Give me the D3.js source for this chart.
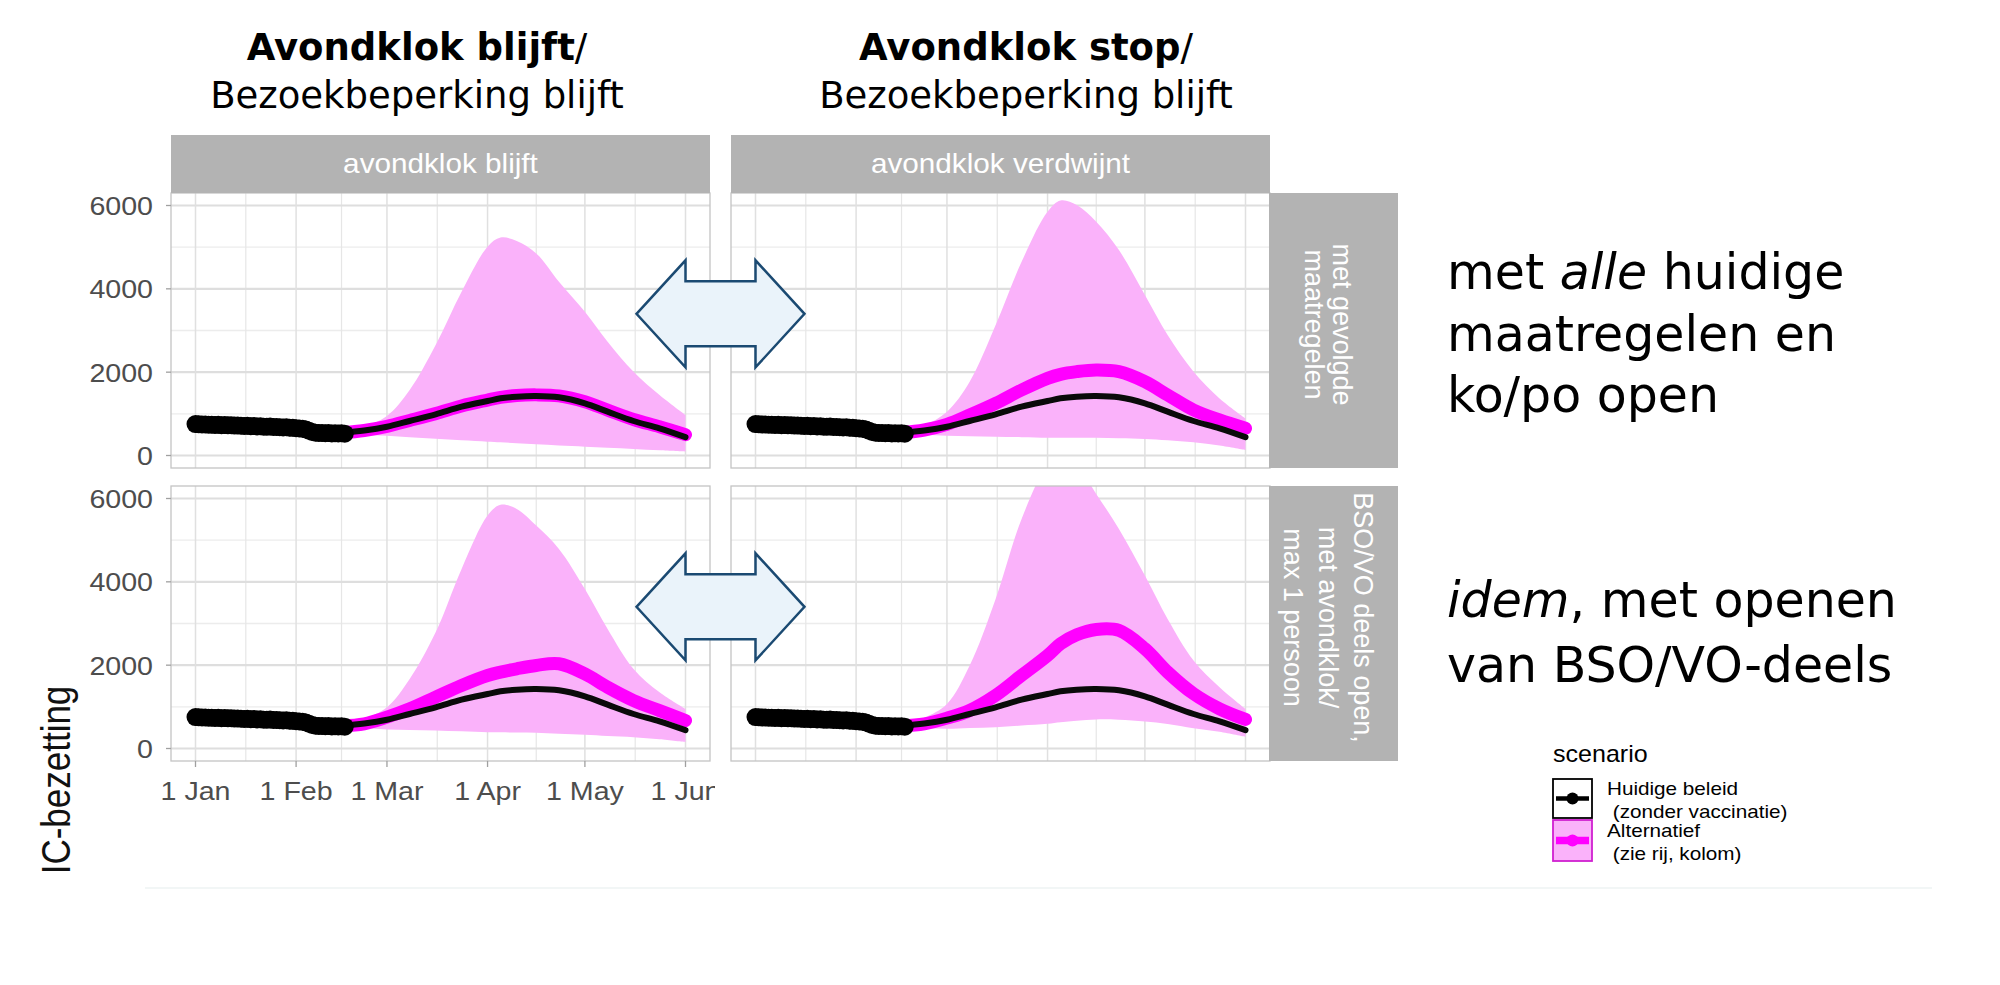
<!DOCTYPE html>
<html>
<head>
<meta charset="utf-8">
<script src="https://cdn.jsdelivr.net/npm/d3@7"></script>
<style>
    body { margin: 0; background: #fff; }
    svg { display: block; }
</style>
</head>
<body>
<div id="chart"></div>
<script>
// ---- data ----
const obsStart = "2021-01-01";
// daily IC occupancy, 1 Jan - 16 Feb
const observed = [755, 748, 744, 746, 738, 741, 733, 736, 729, 731,
                  724, 727, 718, 721, 715, 709, 712, 703, 706, 699,
                  701, 693, 690, 694, 684, 686, 679, 675, 678, 667, 664,
                  657, 650, 645, 624, 594, 566, 549, 541, 543, 535,
                  539, 531, 533, 528, 532, 525];

const modelDates = ["2021-02-15", "2021-02-22", "2021-03-01", "2021-03-08", "2021-03-16", "2021-03-24",
                    "2021-04-01", "2021-04-05", "2021-04-10", "2021-04-16", "2021-04-23",
                    "2021-05-01", "2021-05-08", "2021-05-16", "2021-05-24", "2021-06-01"];

// huidige beleid (same in every panel)
const baseline = [545, 600, 690, 828, 988, 1172, 1308, 1372, 1412, 1428, 1396, 1252, 1052, 828, 652, 440];

// alternatief, median
const altTL = [545, 600, 700, 840, 1005, 1190, 1330, 1395, 1440, 1455, 1430, 1290, 1090, 865, 690, 500];
const altTR = [545, 612, 748, 972, 1252, 1572, 1852, 1948, 2012, 2052, 2012, 1772, 1452, 1092, 852, 652];
const altBL = [545, 593, 753, 953, 1233, 1513, 1753, 1833, 1913, 1993, 2033, 1790, 1470, 1150, 910, 673];
const altBR = [545, 593, 729, 913, 1273, 1753, 2233, 2513, 2729, 2857, 2833, 2393, 1833, 1313, 953, 697];

// alternatief, lower bound of band
const lowTL = [520, 500, 476, 440, 400, 365, 332, 318, 296, 268, 240, 212, 185, 156, 125, 92];
const lowTR = [520, 500, 476, 462, 452, 440, 428, 428, 428, 425, 415, 396, 365, 316, 240, 132];
const lowBL = [520, 490, 457, 445, 433, 412, 393, 388, 383, 377, 355, 329, 300, 273, 220, 153];
const lowBR = [520, 490, 473, 490, 513, 550, 593, 630, 665, 697, 690, 649, 590, 489, 400, 280];

// alternatief, upper bound of band
const upTL = [560, 700, 950, 1570, 2650, 3930, 5010, 5230, 5150, 4850, 4170, 3450, 2730, 2010, 1450, 970];
const upTR = [560, 720, 1050, 1770, 3130, 4650, 5850, 6120, 6010, 5610, 4930, 3850, 2890, 2010, 1370, 890];
const upBL = [560, 710, 990, 1670, 2790, 4310, 5590, 5850, 5750, 5350, 4790, 3830, 2870, 1910, 1350, 950];
const upBR = [560, 740, 1070, 1990, 3590, 5510, 6800, 7000, 6800, 6110, 5270, 4150, 3110, 2110, 1470, 950];

const colLabels = ["avondklok blijft", "avondklok verdwijnt"];
const rowLabels = [["met gevolgde", "maatregelen"],
                   ["BSO/VO deels open,", "met avondklok/", "max 1 persoon"]];
const yTicks = [0, 2000, 4000, 6000];
const yMinor = [1000, 3000, 5000];
const xTicks = ["2021-01-01", "2021-02-01", "2021-03-01", "2021-04-01", "2021-05-01", "2021-06-01"];
const legendLabels = [["Huidige beleid", " (zonder vaccinatie)"], ["Alternatief", " (zie rij, kolom)"]];

// ---- layout ----
const W = 2000, H = 985;
const colX = [171, 731], panelW = 539;
const rowY = [193, 486], panelH = 275;
const stripTop = 135, stripH = 58, rowStripW = 129;
const pink = "#fab2fa", magenta = "#ff00ff";
const ggFont = "'Liberation Sans', Arial, Helvetica, sans-serif";
const slideFont = "'DejaVu Sans', Verdana, sans-serif";

const parse = d3.timeParse("%Y-%m-%d");
const t0 = parse("2021-01-01"), t1 = parse("2021-06-01");
const pad = (t1 - t0) * 0.05;

const x = d3.scaleTime().domain([new Date(+t0 - pad), new Date(+t1 + pad)]).range([0, panelW]);
const y = d3.scaleLinear().domain([-300, 6300]).range([panelH, 0]);

const obsData = observed.map((v, i) => ({date: d3.timeDay.offset(parse(obsStart), i), v}));
const mDates = modelDates.map(parse);
const majorX = xTicks.map(parse);
const minorX = d3.pairs(majorX).map(([a, b]) => new Date((+a + +b) / 2));

const panels = [
    {r: 0, c: 0, alt: altTL, low: lowTL, up: upTL},
    {r: 0, c: 1, alt: altTR, low: lowTR, up: upTR},
    {r: 1, c: 0, alt: altBL, low: lowBL, up: upBL},
    {r: 1, c: 1, alt: altBR, low: lowBR, up: upBR}
];

const svg = d3.select("#chart").append("svg")
    .attr("width", W).attr("height", H)
    .style("background", "#fff");

// text stretched the way the ggplot picture was stretched on the slide
function sText(g, px, py, str, size, anchor, fill, sx = 1.1) {
    return g.append("text")
        .attr("transform", `translate(${px},${py}) scale(${sx},1)`)
        .attr("text-anchor", anchor)
        .attr("font-family", ggFont)
        .attr("font-size", size)
        .attr("fill", fill)
        .text(str);
}

// faint edge of the pasted picture
svg.append("line").attr("x1", 145).attr("x2", 1932).attr("y1", 888).attr("y2", 888)
    .attr("stroke", "#eef3f3").attr("stroke-width", 1.5);

// ---- panels ----
const smooth = d3.curveCatmullRom.alpha(0.5);
const area = d3.area()
    .x(d => x(d.date)).y0(d => y(d.lo)).y1(d => y(d.hi))
    .curve(smooth);
const line = d3.line()
    .x(d => x(d.date)).y(d => y(d.v))
    .curve(smooth);

panels.forEach((p, i) => {
    const g = svg.append("g").attr("transform", `translate(${colX[p.c]},${rowY[p.r]})`);

    g.append("clipPath").attr("id", "clip" + i)
        .append("rect").attr("width", panelW).attr("height", panelH);

    g.append("rect").attr("width", panelW).attr("height", panelH).attr("fill", "#fff");

    // grid
    g.selectAll(".ymin").data(yMinor).join("line")
        .attr("x1", 0).attr("x2", panelW).attr("y1", d => y(d)).attr("y2", d => y(d))
        .attr("stroke", "#ececec").attr("stroke-width", 1.3);
    g.selectAll(".xmin").data(minorX).join("line")
        .attr("x1", d => x(d)).attr("x2", d => x(d)).attr("y1", 0).attr("y2", panelH)
        .attr("stroke", "#e6e6e6").attr("stroke-width", 1.2);
    g.selectAll(".ymaj").data(yTicks).join("line")
        .attr("x1", 0).attr("x2", panelW).attr("y1", d => y(d)).attr("y2", d => y(d))
        .attr("stroke", "#dedede").attr("stroke-width", 2.2);
    g.selectAll(".xmaj").data(majorX).join("line")
        .attr("x1", d => x(d)).attr("x2", d => x(d)).attr("y1", 0).attr("y2", panelH)
        .attr("stroke", "#e0e0e0").attr("stroke-width", 1.5);

    const band = mDates.map((d, k) => ({date: d, lo: p.low[k], hi: p.up[k]}));
    const alt = mDates.map((d, k) => ({date: d, v: p.alt[k]}));
    const base = mDates.map((d, k) => ({date: d, v: baseline[k]}));

    const plot = g.append("g").attr("clip-path", `url(#clip${i})`);
    plot.append("path").attr("d", area(band)).attr("fill", pink);
    plot.append("path").attr("d", line(alt)).attr("fill", "none")
        .attr("stroke", magenta).attr("stroke-width", 13).attr("stroke-linecap", "round");
    plot.append("path").attr("d", line(base)).attr("fill", "none")
        .attr("stroke", "#0a0a0a").attr("stroke-width", 6).attr("stroke-linecap", "round");
    plot.selectAll("circle").data(obsData).join("circle")
        .attr("cx", d => x(d.date)).attr("cy", d => y(d.v)).attr("r", 9)
        .attr("fill", "#000");

    g.append("rect").attr("width", panelW).attr("height", panelH)
        .attr("fill", "none").attr("stroke", "#c4c4c4").attr("stroke-width", 1.3);

    // y axis on the left column
    if (p.c === 0) {
        g.selectAll(".ytk").data(yTicks).join("line")
            .attr("x1", -5).attr("x2", 0).attr("y1", d => y(d)).attr("y2", d => y(d))
            .attr("stroke", "#a0a0a0").attr("stroke-width", 1.3);
        yTicks.forEach(v => {
            sText(g, -18, y(v), v, 26, "end", "#4d4d4d").attr("dy", "0.36em");
        });
    }
});

// x axis below the bottom-left panel (last label cut at the picture edge)
const xg = svg.append("g").attr("transform", `translate(${colX[0]},${rowY[1] + panelH})`);
svg.append("clipPath").attr("id", "xclip")
    .append("rect").attr("x", -colX[0]).attr("y", 0).attr("width", 715).attr("height", 80);
xg.selectAll("line").data(majorX).join("line")
    .attr("x1", d => x(d)).attr("x2", d => x(d)).attr("y1", 0).attr("y2", 6)
    .attr("stroke", "#a0a0a0").attr("stroke-width", 1.3);
const xl = xg.append("g").attr("clip-path", "url(#xclip)");
const fmt = d3.timeFormat("%-d %b");
majorX.forEach(d => sText(xl, x(d), 39, fmt(d), 26, "middle", "#4d4d4d"));

// ---- strips ----
colLabels.forEach((lab, c) => {
    svg.append("rect").attr("x", colX[c]).attr("y", stripTop)
        .attr("width", panelW).attr("height", stripH).attr("fill", "#b3b3b3");
    sText(svg, colX[c] + panelW / 2, stripTop + stripH / 2, lab, 27, "middle", "#fff")
        .attr("dy", "0.33em");
});

const rsX = colX[1] + panelW - 1;
const rowSpacing = [28, 35];
rowLabels.forEach((lines, r) => {
    svg.append("rect").attr("x", rsX).attr("y", rowY[r])
        .attr("width", rowStripW).attr("height", panelH).attr("fill", "#b3b3b3");
    const cx = rsX + rowStripW / 2 - 5, cy = rowY[r] + panelH / 2 - 6;
    lines.forEach((txt, k) => {
        const lx = cx + ((lines.length - 1) / 2 - k) * rowSpacing[r];
        svg.append("text")
            .attr("transform", `translate(${lx},${cy}) rotate(90)`)
            .attr("text-anchor", "middle").attr("dy", "0.36em")
            .attr("font-family", ggFont).attr("font-size", 27).attr("fill", "#fff")
            .text(txt);
    });
});

// y axis title
svg.append("text")
    .attr("transform", "translate(70,780) scale(1.15,1) rotate(-90)")
    .attr("text-anchor", "middle")
    .attr("font-family", ggFont).attr("font-size", 35).attr("fill", "#111")
    .text("IC-bezetting");

// ---- double arrows between the columns ----
function doubleArrow(cx, cy) {
    const half = 84, head = 49, hh = 53.5, sh = 32.5;
    const pts = [
        [cx - half, cy], [cx - half + head, cy - hh], [cx - half + head, cy - sh],
        [cx + half - head, cy - sh], [cx + half - head, cy - hh], [cx + half, cy],
        [cx + half - head, cy + hh], [cx + half - head, cy + sh],
        [cx - half + head, cy + sh], [cx - half + head, cy + hh]
    ];
    svg.append("path")
        .attr("d", d3.line()(pts) + "Z")
        .attr("fill", "#eaf3fa").attr("stroke", "#1b4a72").attr("stroke-width", 2.5)
        .attr("stroke-linejoin", "miter");
}
const gapX = (colX[0] + panelW + colX[1]) / 2;
rowY.forEach(ry => doubleArrow(gapX, ry + y(3400)));

// ---- slide titles ----
function title(cx, bold) {
    const t = svg.append("text").attr("x", cx).attr("y", 60).attr("text-anchor", "middle")
        .attr("font-family", slideFont).attr("font-size", 37).attr("fill", "#000");
    t.append("tspan").attr("font-weight", "bold").text(bold);
    t.append("tspan").text("/");
    svg.append("text").attr("x", cx).attr("y", 108).attr("text-anchor", "middle")
        .attr("font-family", slideFont).attr("font-size", 37).attr("fill", "#000")
        .text("Bezoekbeperking blijft");
}
title(417, "Avondklok blijft");
title(1026, "Avondklok stop");

// ---- right-hand notes ----
function note(yy, parts) {
    const t = svg.append("text").attr("x", 1447).attr("y", yy)
        .attr("font-family", slideFont).attr("font-size", 49).attr("fill", "#000");
    parts.forEach(([s, it]) => t.append("tspan").attr("font-style", it ? "italic" : "normal").text(s));
}
note(289, [["met ", 0], ["alle", 1], [" huidige", 0]]);
note(351, [["maatregelen en", 0]]);
note(412, [["ko/po open", 0]]);
note(617, [["idem", 1], [", met openen", 0]]);
note(682, [["van BSO/VO-deels", 0]]);

// ---- legend ----
const lg = svg.append("g").attr("transform", "translate(1553,0)");
sText(lg, 0, 762, "scenario", 23, "start", "#000", 1.09);

// key 1: huidige beleid
lg.append("rect").attr("x", 0).attr("y", 779).attr("width", 39).attr("height", 39)
    .attr("fill", "#fff").attr("stroke", "#000").attr("stroke-width", 1.8);
lg.append("line").attr("x1", 3).attr("x2", 36).attr("y1", 798.5).attr("y2", 798.5)
    .attr("stroke", "#000").attr("stroke-width", 4.5);
lg.append("circle").attr("cx", 19.5).attr("cy", 798.5).attr("r", 6).attr("fill", "#000");

// key 2: alternatief
lg.append("rect").attr("x", 0).attr("y", 820).attr("width", 39).attr("height", 41)
    .attr("fill", pink).attr("stroke", "#d020d0").attr("stroke-width", 1.8);
lg.append("line").attr("x1", 3).attr("x2", 36).attr("y1", 840.5).attr("y2", 840.5)
    .attr("stroke", magenta).attr("stroke-width", 7.5);
lg.append("circle").attr("cx", 19.5).attr("cy", 840.5).attr("r", 6).attr("fill", magenta);

legendLabels.forEach((pair, k) => {
    const by = [795, 837][k];
    sText(lg, 54, by, pair[0], 18, "start", "#000", 1.15);
    sText(lg, 54, by + 23, pair[1], 18, "start", "#000", 1.15)
        .style("white-space", "pre");
});
</script>
</body>
</html>
